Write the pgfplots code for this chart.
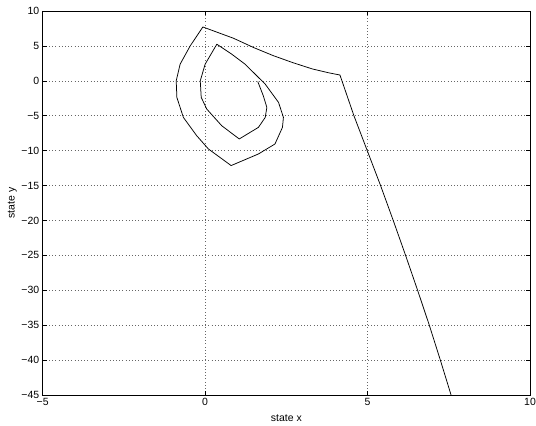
\documentclass[border=0pt]{standalone}
\usepackage{fontspec}
\setmainfont{Liberation Sans}
\usepackage{pgfplots}
\pgfplotsset{compat=1.18}
\begin{document}
\begin{tikzpicture}
\begin{axis}[
  scale only axis,
  width=487.3bp, height=384bp,
  xmin=-5, xmax=10, ymin=-45, ymax=10,
  xtick={-5,0,5,10},
  xticklabels={−5,0,5,10},
  ytick={-45,-40,-35,-30,-25,-20,-15,-10,-5,0,5,10},
  yticklabels={−45,−40,−35,−30,−25,−20,−15,−10,−5,0,5,10},
  tick align=inside,
  major tick length=4bp,
  tick style={black, line width=0.5pt},
  axis line style={line width=0.7pt},
  grid=major,
  major grid style={dash pattern=on 0.6pt off 2.6pt, black!60, line width=0.5pt},
  font=\fontsize{10.5}{12}\selectfont,
  xlabel={state x},
  ylabel={state y},
  xlabel style={at={(axis description cs:0.5,-0.06)}, anchor=center},
  ylabel style={at={(axis description cs:-0.0625,0.5)}, anchor=center},
]
\addplot[black, line width=0.75pt, line join=round] coordinates {
 (1.62,-0.10) (1.79,-2.14) (1.90,-3.81) (1.85,-5.24) (1.64,-6.67) (1.05,-8.33)
 (0.51,-6.43) (0.05,-4.05) (-0.12,-2.38) (-0.15,0.00) (0.00,2.38) (0.36,5.24)
 (0.82,3.81) (1.23,2.38) (1.85,-0.48) (2.26,-3.10) (2.41,-5.24) (2.38,-6.67)
 (2.15,-9.05) (1.64,-10.48) (0.80,-12.14)
 (0.10,-9.76) (-0.26,-7.86) (-0.67,-5.24) (-0.87,-2.38) (-0.89,0.00)
 (-0.77,2.38) (-0.46,5.00) (-0.07,7.71)
 (0.87,6.10) (1.50,4.75) (2.10,3.60) (2.70,2.60) (3.30,1.70) (3.80,1.15) (4.15,0.83)
 (4.58,-5.0) (4.99,-10.0) (5.40,-15.0) (5.79,-20.0) (6.17,-25.0) (6.54,-30.0)
 (6.90,-35.0) (7.24,-40.0) (7.57,-45.0)
};
\end{axis}
\pgfresetboundingbox
\useasboundingbox ([shift={(-42.7bp,-31bp)}]current axis.south west) rectangle ([shift={(6bp,11bp)}]current axis.north east);
\end{tikzpicture}
\end{document}
